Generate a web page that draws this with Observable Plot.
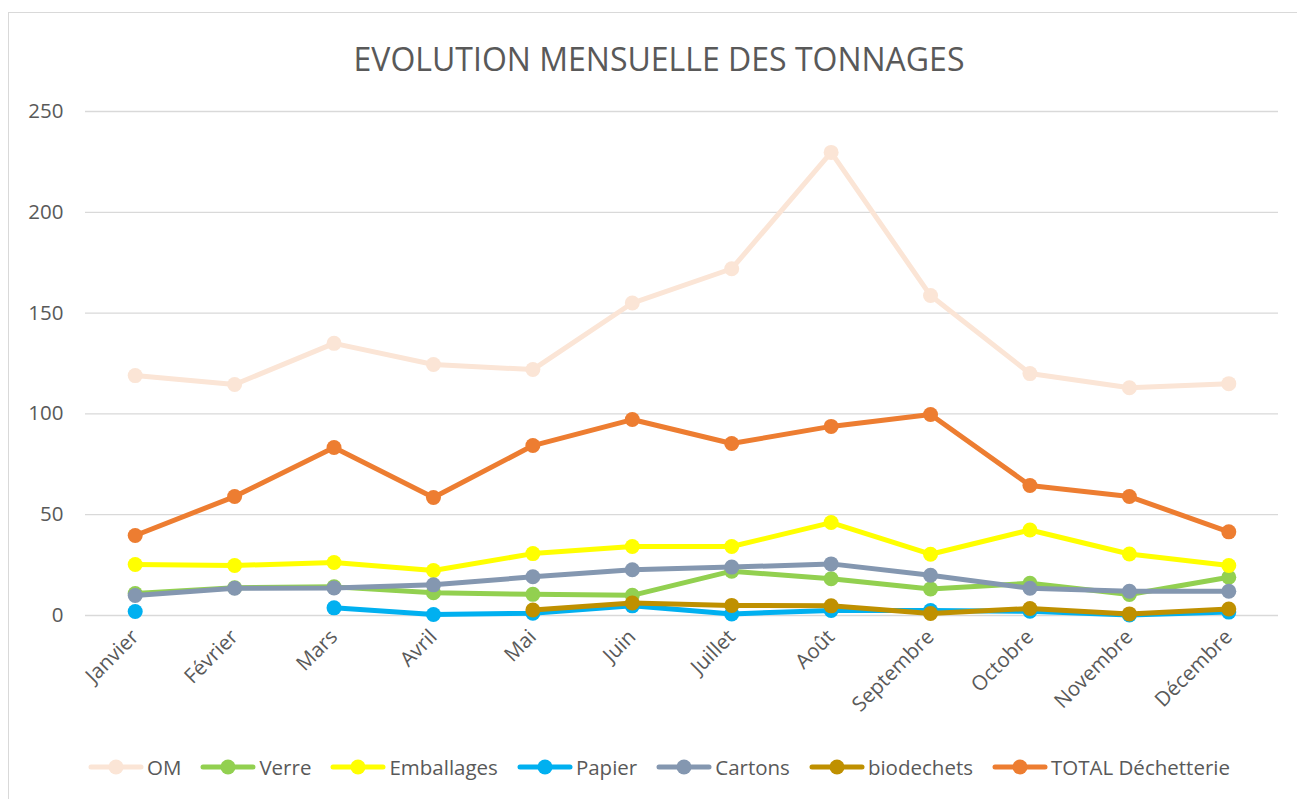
<!DOCTYPE html>
<html>
<head>
<meta charset="utf-8">
<script src="https://cdn.jsdelivr.net/npm/d3@7"></script>
<script src="https://cdn.jsdelivr.net/npm/@observablehq/plot@0.6"></script>
<style>
  body { margin: 0; background: #fff; font-family: "Open Sans", sans-serif; color: #595959; overflow: hidden; }
  #frame { position: absolute; left: 8px; top: 12px; width: 1300px; height: 800px; border: 1px solid #d9d9d9; }
  #title { position: absolute; left: 0; top: 26px; width: 1300px; height: 40px; line-height: 40px; text-align: center; font-size: 32px; color: #595959; }
  #chart { position: absolute; left: 0; top: 78px; }
  #legend { position: absolute; left: 0; width: 1300px; top: 740px; height: 28px; display: flex; justify-content: center; align-items: center; font-size: 20.5px; color: #595959; }
  .item { display: flex; align-items: center; margin-right: 19px; }
  .item:last-child { margin-right: 0; }
  .item svg { display: block; margin-right: 3px; }
</style>
</head>
<body>
<div id="frame">
  <div id="title">EVOLUTION MENSUELLE DES TONNAGES</div>
  <div id="chart"></div>
  <div id="legend"></div>
</div>
<script>
const months = ["Janvier","Février","Mars","Avril","Mai","Juin","Juillet","Août","Septembre","Octobre","Novembre","Décembre"];
const yTicks = [0, 50, 100, 150, 200, 250];

const om         = [119, 114.6, 135, 124.5, 122, 155, 172, 229.7, 158.7, 120, 113, 115];
const verre      = [10.9, 13.8, 14.2, 11.3, 10.5, 10, 22, 18.2, 13.2, 16, 10.4, 19];
const emballages = [25.3, 24.8, 26.3, 22.3, 30.7, 34.2, 34.2, 46.1, 30.4, 42.4, 30.5, 24.8];
const papier     = [2, null, 3.8, 0.5, 1.1, 4.8, 0.8, 2.5, 2.5, 2.1, 0.3, 1.7];
const cartons    = [9.9, 13.5, 13.7, 15.2, 19.2, 22.7, 24, 25.6, 20, 13.5, 12, 12];
const biodechets = [null, null, null, null, 2.7, 6.2, 5, 4.8, 1, 3.5, 0.8, 3.2];
const total      = [39.7, 59, 83.3, 58.5, 84.3, 97.2, 85.3, 93.8, 99.7, 64.5, 59, 41.5];

const seriesNames  = ["OM", "Verre", "Emballages", "Papier", "Cartons", "biodechets", "TOTAL Déchetterie"];
const seriesValues = [om, verre, emballages, papier, cartons, biodechets, total];
const seriesColors = ["#FBE5D6", "#92D050", "#FFFF00", "#00B0F0", "#8497B0", "#BF9000", "#ED7D31"];

const marks = [Plot.ruleY(yTicks, {stroke: "#d9d9d9", strokeWidth: 1.3})];
seriesNames.forEach((name, k) => {
  const rows = months.map((m, i) => ({month: m, value: seriesValues[k][i], series: name}));
  marks.push(Plot.line(rows, {x: "month", y: "value", stroke: seriesColors[k], strokeWidth: 5, strokeLinecap: "round", strokeLinejoin: "round"}));
  marks.push(Plot.dot(rows.filter(d => d.value != null), {x: "month", y: "value", r: 7.5, fill: seriesColors[k], stroke: "none"}));
});

const chart = Plot.plot({
  width: 1279,
  height: 640,
  marginTop: 20,
  marginBottom: 116,
  marginLeft: 76,
  marginRight: 10,
  style: {fontFamily: "'Open Sans', sans-serif", fontSize: "20.5px", color: "#595959", background: "transparent"},
  x: {type: "point", domain: months, padding: 0.5, round: false, label: null, tickSize: 0, tickRotate: -45, tickPadding: 18},
  y: {domain: [0, 250], ticks: yTicks, label: null, tickSize: 0, tickPadding: 22},
  marks
});
document.getElementById("chart").appendChild(chart);

const legend = document.getElementById("legend");
seriesNames.forEach((name, k) => {
  const item = document.createElement("div");
  item.className = "item";
  item.innerHTML = `<svg width="56" height="20"><line x1="3" y1="10" x2="53" y2="10" stroke="${seriesColors[k]}" stroke-width="5" stroke-linecap="round"/><circle cx="28" cy="10" r="7.5" fill="${seriesColors[k]}"/></svg><span>${name}</span>`;
  legend.appendChild(item);
});
</script>
</body>
</html>
